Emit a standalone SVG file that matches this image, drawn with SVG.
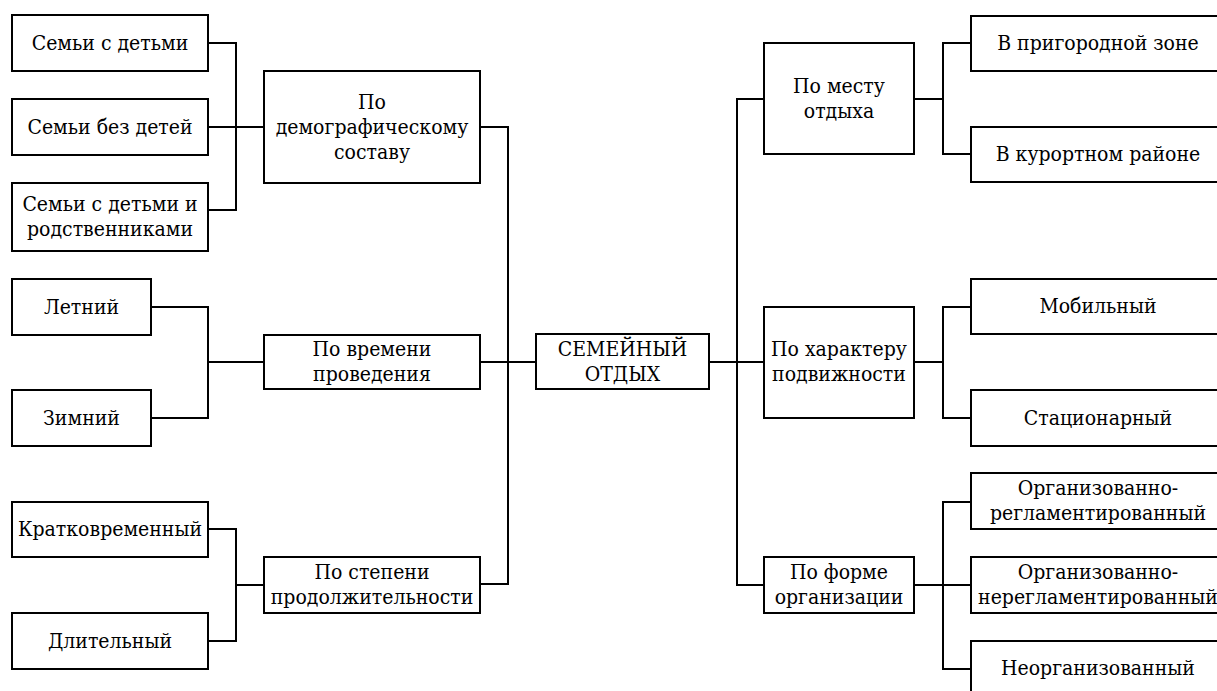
<svg xmlns="http://www.w3.org/2000/svg" width="1217" height="691" viewBox="0 0 1217 691">
<style>
.b{fill:#fff;stroke:#000;stroke-width:2}
.t{font-family:'DejaVu Serif';font-stretch:condensed;font-size:21px;fill:#000;text-anchor:middle}
.c{fill:none;stroke:#000;stroke-width:2}
</style>
<rect width="1217" height="691" fill="#fff"/>
<g id="connectors" class="c">
<polyline points="208,43 236,43 236,210 208,210"/>
<line x1="208" y1="127" x2="264" y2="127"/>
<polyline points="151,307 208,307 208,418 151,418"/>
<line x1="208" y1="362" x2="264" y2="362"/>
<polyline points="208,529 236,529 236,641 208,641"/>
<line x1="236" y1="585" x2="264" y2="585"/>
<polyline points="480,127 508,127 508,584 480,584"/>
<line x1="480" y1="362" x2="536" y2="362"/>
<line x1="709" y1="362" x2="764" y2="362"/>
<polyline points="764,99 737,99 737,585 764,585"/>
<polyline points="971,43 943,43 943,154 971,154"/>
<line x1="914" y1="99" x2="943" y2="99"/>
<polyline points="971,307 943,307 943,418 971,418"/>
<line x1="914" y1="362" x2="943" y2="362"/>
<polyline points="971,502 943,502 943,669 971,669"/>
<line x1="914" y1="585" x2="971" y2="585"/>
</g>
<g id="n1"><rect class="b" x="12" y="15" width="196" height="56"/><text class="t" x="110" y="50">Семьи с детьми</text></g>
<g id="n2"><rect class="b" x="12" y="99" width="196" height="56"/><text class="t" x="110" y="134">Семьи без детей</text></g>
<g id="n3"><rect class="b" x="12" y="183" width="196" height="68"/><text class="t" x="110" y="211">Семьи с детьми и</text><text class="t" x="110" y="236">родственниками</text></g>
<g id="n4"><rect class="b" x="264" y="71" width="216" height="112"/><text class="t" x="372" y="109">По</text><text class="t" x="372" y="134">демографическому</text><text class="t" x="372" y="159">составу</text></g>
<g id="n5"><rect class="b" x="12" y="279" width="139" height="56"/><text class="t" x="81.5" y="314">Летний</text></g>
<g id="n6"><rect class="b" x="12" y="390" width="139" height="56"/><text class="t" x="81.5" y="425">Зимний</text></g>
<g id="n7"><rect class="b" x="264" y="335" width="216" height="54"/><text class="t" x="372" y="356">По времени</text><text class="t" x="372" y="381">проведения</text></g>
<g id="n8"><rect class="b" x="12" y="502" width="196" height="55"/><text class="t" x="110" y="536">Кратковременный</text></g>
<g id="n9"><rect class="b" x="12" y="613" width="196" height="56"/><text class="t" x="110" y="648">Длительный</text></g>
<g id="n10"><rect class="b" x="264" y="557" width="216" height="56"/><text class="t" x="372" y="579">По степени</text><text class="t" x="372" y="604">продолжительности</text></g>
<g id="n11"><rect class="b" x="536" y="334" width="173" height="55"/><text class="t" x="622.5" y="356">СЕМЕЙНЫЙ</text><text class="t" x="622.5" y="381">ОТДЫХ</text></g>
<g id="n12"><rect class="b" x="764" y="43" width="150" height="111"/><text class="t" x="839" y="93">По месту</text><text class="t" x="839" y="118">отдыха</text></g>
<g id="n13"><rect class="b" x="971" y="16" width="255" height="55"/><text class="t" x="1098" y="50">В пригородной зоне</text></g>
<g id="n14"><rect class="b" x="971" y="127" width="255" height="55"/><text class="t" x="1098" y="161">В курортном районе</text></g>
<g id="n15"><rect class="b" x="764" y="307" width="150" height="111"/><text class="t" x="839" y="356">По характеру</text><text class="t" x="839" y="381">подвижности</text></g>
<g id="n16"><rect class="b" x="971" y="279" width="255" height="55"/><text class="t" x="1098" y="313">Мобильный</text></g>
<g id="n17"><rect class="b" x="971" y="390" width="255" height="56"/><text class="t" x="1098" y="425">Стационарный</text></g>
<g id="n18"><rect class="b" x="764" y="557" width="150" height="56"/><text class="t" x="839" y="579">По форме</text><text class="t" x="839" y="604">организации</text></g>
<g id="n19"><rect class="b" x="971" y="473" width="255" height="56"/><text class="t" x="1098" y="495">Организованно-</text><text class="t" x="1098" y="520">регламентированный</text></g>
<g id="n20"><rect class="b" x="971" y="557" width="255" height="56"/><text class="t" x="1098" y="579">Организованно-</text><text class="t" x="1098" y="604">нерегламентированный</text></g>
<g id="n21"><rect class="b" x="971" y="641" width="255" height="56"/><text class="t" x="1098" y="675">Неорганизованный</text></g>
</svg>
